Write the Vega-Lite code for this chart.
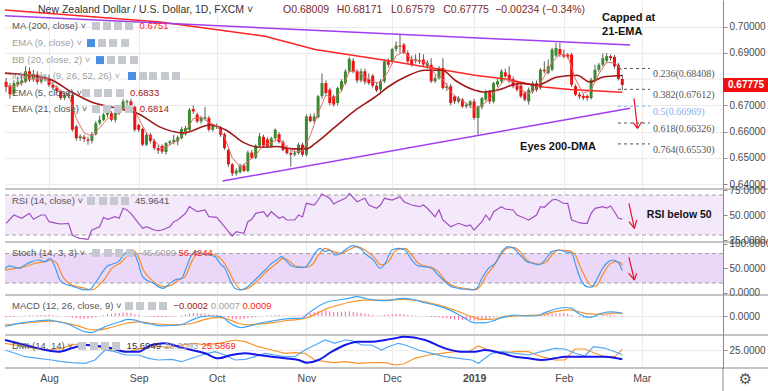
{
"$schema":"https://vega.github.io/schema/vega-lite/v6.json",
"padding":0,
"background":"#ffffff",
"spacing":0,
"bounds":"flush",
"config":{"view":{"stroke":null},"axis":{"labelFont":"Liberation Sans","labelFontSize":10,"labelColor":"#4a4a4a","domainColor":"#8a8a8a","tickColor":"#8a8a8a","gridColor":"#ebebeb","labelOverlap":false},"text":{"font":"Liberation Sans"}},
"datasets":{
"c":[
{"i":-11,"o":0.679,"h":0.6805,"l":0.675,"c":0.677},{"i":-10,"o":0.6775,"h":0.6785,"l":0.6725,"c":0.6742},{"i":-9,"o":0.6745,"h":0.6795,"l":0.6735,"c":0.6785},{"i":-8,"o":0.678,"h":0.681,"l":0.677,"c":0.679},{"i":-7,"o":0.6785,"h":0.6815,"l":0.6775,"c":0.6795},{"i":-6,"o":0.679,"h":0.6849,"l":0.6785,"c":0.683},{"i":-5,"o":0.683,"h":0.6845,"l":0.679,"c":0.68},{"i":-4,"o":0.68,"h":0.6835,"l":0.679,"c":0.682},{"i":-3,"o":0.682,"h":0.683,"l":0.678,"c":0.679},{"i":-2,"o":0.679,"h":0.6815,"l":0.6782,"c":0.6805},{"i":-1,"o":0.6805,"h":0.6815,"l":0.679,"c":0.68},
{"i":0,"o":0.68,"h":0.6815,"l":0.677,"c":0.6778},{"i":1,"o":0.6778,"h":0.679,"l":0.6758,"c":0.6768},{"i":2,"o":0.6768,"h":0.6775,"l":0.6745,"c":0.6755},{"i":3,"o":0.6755,"h":0.676,"l":0.672,"c":0.6728},{"i":4,"o":0.6728,"h":0.6748,"l":0.672,"c":0.674},{"i":5,"o":0.6742,"h":0.675,"l":0.6728,"c":0.6735},{"i":6,"o":0.674,"h":0.6748,"l":0.66,"c":0.6607},{"i":7,"o":0.662,"h":0.6625,"l":0.6565,"c":0.6575},{"i":8,"o":0.6575,"h":0.659,"l":0.6565,"c":0.6582},{"i":9,"o":0.658,"h":0.6588,"l":0.656,"c":0.6572},
{"i":10,"o":0.657,"h":0.658,"l":0.655,"c":0.6565},{"i":11,"o":0.6565,"h":0.6598,"l":0.6555,"c":0.659},{"i":12,"o":0.659,"h":0.664,"l":0.6585,"c":0.6632},{"i":13,"o":0.6632,"h":0.666,"l":0.6625,"c":0.6645},{"i":14,"o":0.6645,"h":0.6675,"l":0.664,"c":0.6665},{"i":15,"o":0.6665,"h":0.6685,"l":0.6655,"c":0.6671},{"i":16,"o":0.667,"h":0.6678,"l":0.6638,"c":0.6645},{"i":17,"o":0.6645,"h":0.668,"l":0.6635,"c":0.667},{"i":18,"o":0.667,"h":0.67,"l":0.6665,"c":0.669},{"i":19,"o":0.669,"h":0.6725,"l":0.6685,"c":0.6715},
{"i":20,"o":0.6712,"h":0.6722,"l":0.67,"c":0.6716},{"i":21,"o":0.6715,"h":0.6725,"l":0.6688,"c":0.6694},{"i":22,"o":0.6694,"h":0.67,"l":0.66,"c":0.6607},{"i":23,"o":0.6625,"h":0.663,"l":0.6598,"c":0.6607},{"i":24,"o":0.661,"h":0.6615,"l":0.6545,"c":0.655},{"i":25,"o":0.655,"h":0.6598,"l":0.6545,"c":0.6588},{"i":26,"o":0.6588,"h":0.6595,"l":0.6555,"c":0.6565},{"i":27,"o":0.6565,"h":0.6572,"l":0.653,"c":0.6537},{"i":28,"o":0.6537,"h":0.6548,"l":0.6515,"c":0.6528},{"i":29,"o":0.6545,"h":0.6552,"l":0.6515,"c":0.6524},
{"i":30,"o":0.6522,"h":0.656,"l":0.6512,"c":0.6556},{"i":31,"o":0.6556,"h":0.6568,"l":0.6548,"c":0.6562},{"i":32,"o":0.656,"h":0.6588,"l":0.6552,"c":0.6569},{"i":33,"o":0.6562,"h":0.6585,"l":0.6548,"c":0.6578},{"i":34,"o":0.6575,"h":0.6618,"l":0.657,"c":0.661},{"i":35,"o":0.659,"h":0.6622,"l":0.6585,"c":0.6613},{"i":36,"o":0.6607,"h":0.669,"l":0.66,"c":0.6683},{"i":37,"o":0.6686,"h":0.67,"l":0.6668,"c":0.6677},{"i":38,"o":0.6665,"h":0.6672,"l":0.6632,"c":0.6639},{"i":39,"o":0.6639,"h":0.666,"l":0.663,"c":0.6652},
{"i":40,"o":0.665,"h":0.6694,"l":0.6642,"c":0.6655},{"i":41,"o":0.6652,"h":0.666,"l":0.66,"c":0.6607},{"i":42,"o":0.6607,"h":0.663,"l":0.66,"c":0.6622},{"i":43,"o":0.6622,"h":0.663,"l":0.661,"c":0.6618},{"i":44,"o":0.6615,"h":0.6622,"l":0.658,"c":0.6588},{"i":45,"o":0.659,"h":0.6595,"l":0.653,"c":0.6537},{"i":46,"o":0.653,"h":0.6535,"l":0.6465,"c":0.6475},{"i":47,"o":0.6475,"h":0.648,"l":0.643,"c":0.644},{"i":48,"o":0.644,"h":0.646,"l":0.6432,"c":0.6452},{"i":49,"o":0.6445,"h":0.6478,"l":0.644,"c":0.647},
{"i":50,"o":0.647,"h":0.6478,"l":0.6445,"c":0.645},{"i":51,"o":0.645,"h":0.6528,"l":0.6445,"c":0.652},{"i":52,"o":0.652,"h":0.653,"l":0.6495,"c":0.65},{"i":53,"o":0.65,"h":0.6552,"l":0.6495,"c":0.6546},{"i":54,"o":0.6546,"h":0.6595,"l":0.654,"c":0.6582},{"i":55,"o":0.658,"h":0.6588,"l":0.654,"c":0.6546},{"i":56,"o":0.657,"h":0.6578,"l":0.6538,"c":0.6545},{"i":57,"o":0.6545,"h":0.658,"l":0.654,"c":0.6575},{"i":58,"o":0.6575,"h":0.6612,"l":0.6568,"c":0.6607},{"i":59,"o":0.659,"h":0.6598,"l":0.6555,"c":0.656},
{"i":60,"o":0.656,"h":0.6568,"l":0.6525,"c":0.653},{"i":61,"o":0.654,"h":0.6548,"l":0.6512,"c":0.6518},{"i":62,"o":0.6518,"h":0.6528,"l":0.6467,"c":0.6512},{"i":63,"o":0.6512,"h":0.6528,"l":0.6505,"c":0.652},{"i":64,"o":0.6518,"h":0.6558,"l":0.6512,"c":0.655},{"i":65,"o":0.655,"h":0.6558,"l":0.6505,"c":0.6512},{"i":66,"o":0.6512,"h":0.6665,"l":0.6505,"c":0.6658},{"i":67,"o":0.6658,"h":0.6668,"l":0.6635,"c":0.664},{"i":68,"o":0.664,"h":0.667,"l":0.663,"c":0.6658},{"i":69,"o":0.6655,"h":0.674,"l":0.665,"c":0.6735},
{"i":70,"o":0.6735,"h":0.6822,"l":0.6725,"c":0.6785},{"i":71,"o":0.6785,"h":0.6795,"l":0.674,"c":0.6747},{"i":72,"o":0.676,"h":0.6768,"l":0.67,"c":0.6709},{"i":73,"o":0.6734,"h":0.674,"l":0.6695,"c":0.6703},{"i":74,"o":0.6709,"h":0.6772,"l":0.67,"c":0.6766},{"i":75,"o":0.676,"h":0.68,"l":0.6752,"c":0.6792},{"i":76,"o":0.6785,"h":0.6838,"l":0.678,"c":0.683},{"i":77,"o":0.683,"h":0.6885,"l":0.6825,"c":0.6877},{"i":78,"o":0.687,"h":0.688,"l":0.6822,"c":0.683},{"i":79,"o":0.683,"h":0.6838,"l":0.6785,"c":0.6795},
{"i":80,"o":0.6795,"h":0.684,"l":0.6788,"c":0.683},{"i":81,"o":0.683,"h":0.684,"l":0.678,"c":0.679},{"i":82,"o":0.68,"h":0.6822,"l":0.6778,"c":0.6785},{"i":83,"o":0.6813,"h":0.682,"l":0.6768,"c":0.6775},{"i":84,"o":0.6775,"h":0.6785,"l":0.675,"c":0.6757},{"i":85,"o":0.676,"h":0.68,"l":0.6752,"c":0.6792},{"i":86,"o":0.6792,"h":0.6875,"l":0.6785,"c":0.6868},{"i":87,"o":0.6868,"h":0.688,"l":0.6845,"c":0.6855},{"i":88,"o":0.6865,"h":0.692,"l":0.6858,"c":0.6915},{"i":89,"o":0.6915,"h":0.6945,"l":0.6905,"c":0.6928},
{"i":90,"o":0.6928,"h":0.697,"l":0.69,"c":0.6924},{"i":91,"o":0.6932,"h":0.6938,"l":0.6895,"c":0.69},{"i":92,"o":0.69,"h":0.691,"l":0.686,"c":0.6868},{"i":93,"o":0.6875,"h":0.689,"l":0.6848,"c":0.6855},{"i":94,"o":0.687,"h":0.6895,"l":0.686,"c":0.6877},{"i":95,"o":0.6872,"h":0.69,"l":0.6858,"c":0.6866},{"i":96,"o":0.6875,"h":0.6895,"l":0.6848,"c":0.6856},{"i":97,"o":0.685,"h":0.6872,"l":0.684,"c":0.6862},{"i":98,"o":0.6855,"h":0.688,"l":0.6785,"c":0.6792},{"i":99,"o":0.6792,"h":0.6815,"l":0.6785,"c":0.6804},
{"i":100,"o":0.6804,"h":0.685,"l":0.6798,"c":0.6843},{"i":101,"o":0.6843,"h":0.688,"l":0.676,"c":0.6766},{"i":102,"o":0.6766,"h":0.6785,"l":0.6755,"c":0.6773},{"i":103,"o":0.6773,"h":0.6782,"l":0.67,"c":0.6709},{"i":104,"o":0.6734,"h":0.674,"l":0.6705,"c":0.6715},{"i":105,"o":0.6715,"h":0.6735,"l":0.6708,"c":0.6728},{"i":106,"o":0.6722,"h":0.6728,"l":0.669,"c":0.6696},{"i":107,"o":0.6696,"h":0.671,"l":0.6688,"c":0.6703},{"i":108,"o":0.67,"h":0.672,"l":0.669,"c":0.6715},{"i":109,"o":0.6715,"h":0.6725,"l":0.6645,"c":0.6652},
{"i":110,"o":0.6652,"h":0.67,"l":0.6588,"c":0.6696},{"i":111,"o":0.6694,"h":0.6732,"l":0.6685,"c":0.6728},{"i":112,"o":0.6722,"h":0.676,"l":0.6715,"c":0.6753},{"i":113,"o":0.6753,"h":0.676,"l":0.6705,"c":0.6715},{"i":114,"o":0.6715,"h":0.679,"l":0.6708,"c":0.6785},{"i":115,"o":0.6779,"h":0.68,"l":0.677,"c":0.6792},{"i":116,"o":0.6792,"h":0.6838,"l":0.6785,"c":0.683},{"i":117,"o":0.6826,"h":0.684,"l":0.6805,"c":0.6811},{"i":118,"o":0.6817,"h":0.6849,"l":0.6785,"c":0.6792},{"i":119,"o":0.68,"h":0.681,"l":0.6765,"c":0.6773},
{"i":120,"o":0.6779,"h":0.679,"l":0.6752,"c":0.676},{"i":121,"o":0.6775,"h":0.6782,"l":0.6728,"c":0.6734},{"i":122,"o":0.6747,"h":0.6755,"l":0.6715,"c":0.6722},{"i":123,"o":0.6715,"h":0.6768,"l":0.6703,"c":0.676},{"i":124,"o":0.6753,"h":0.6792,"l":0.6745,"c":0.6785},{"i":125,"o":0.6785,"h":0.6795,"l":0.6752,"c":0.676},{"i":126,"o":0.6766,"h":0.6842,"l":0.676,"c":0.6836},{"i":127,"o":0.6836,"h":0.6868,"l":0.6822,"c":0.683},{"i":128,"o":0.6824,"h":0.6875,"l":0.6818,"c":0.6849},{"i":129,"o":0.6836,"h":0.692,"l":0.683,"c":0.6913},
{"i":130,"o":0.689,"h":0.6938,"l":0.6885,"c":0.6919},{"i":131,"o":0.6915,"h":0.6938,"l":0.6885,"c":0.6894},{"i":132,"o":0.6894,"h":0.6913,"l":0.688,"c":0.6886},{"i":133,"o":0.6894,"h":0.69,"l":0.6878,"c":0.6885},{"i":134,"o":0.6894,"h":0.69,"l":0.677,"c":0.6779},{"i":135,"o":0.6773,"h":0.678,"l":0.6735,"c":0.6741},{"i":136,"o":0.6741,"h":0.675,"l":0.6725,"c":0.6734},{"i":137,"o":0.6736,"h":0.6745,"l":0.672,"c":0.6728},{"i":138,"o":0.6736,"h":0.6742,"l":0.6718,"c":0.6728},{"i":139,"o":0.6728,"h":0.6805,"l":0.6722,"c":0.6798},
{"i":140,"o":0.6798,"h":0.6855,"l":0.679,"c":0.6836},{"i":141,"o":0.6836,"h":0.6862,"l":0.6828,"c":0.6855},{"i":142,"o":0.6855,"h":0.6898,"l":0.6848,"c":0.688},{"i":143,"o":0.687,"h":0.69,"l":0.686,"c":0.6888},{"i":144,"o":0.6888,"h":0.6895,"l":0.687,"c":0.688},{"i":145,"o":0.6885,"h":0.6892,"l":0.684,"c":0.6849},{"i":146,"o":0.6855,"h":0.6862,"l":0.6795,"c":0.6801},{"i":147,"o":0.6801,"h":0.6817,"l":0.6758,"c":0.6778}
],
"ma":[{"i":-11.3,"v":0.7064},{"i":28.5,"v":0.7018},{"i":55.4,"v":0.6964},{"i":68.2,"v":0.6913},{"i":88.7,"v":0.6866},{"i":109.2,"v":0.6815},{"i":116.5,"v":0.6802},{"i":126.8,"v":0.677},{"i":133.6,"v":0.6761},{"i":147,"v":0.675}],
"e21":[{"i":-11.3,"v":0.6823},{"i":-0.2,"v":0.6802},{"i":5.8,"v":0.6751},{"i":10.9,"v":0.6713},{"i":16.9,"v":0.6691},{"i":22.9,"v":0.6668},{"i":28.5,"v":0.6617},{"i":34.4,"v":0.6595},{"i":41.3,"v":0.6625},{"i":45.6,"v":0.6604},{"i":49.8,"v":0.6559},{"i":54.1,"v":0.654},{"i":58.4,"v":0.6543},{"i":62.6,"v":0.6534},{"i":66.1,"v":0.6534},{"i":68.2,"v":0.6554},{"i":73.3,"v":0.6617},{"i":78.5,"v":0.6681},{"i":83.6,"v":0.6732},{"i":86.9,"v":0.677},{"i":91.3,"v":0.6808},{"i":96.4,"v":0.6834},{"i":100.8,"v":0.6834},{"i":104.1,"v":0.6796},{"i":109.2,"v":0.6758},{"i":111.3,"v":0.6751},{"i":114.9,"v":0.6758},{"i":120.8,"v":0.6784},{"i":125.1,"v":0.6777},{"i":130.3,"v":0.6808},{"i":135.4,"v":0.6815},{"i":138.7,"v":0.6789},{"i":142.1,"v":0.6808},{"i":147,"v":0.6814}],
"e5":[{"i":-11,"v":0.6775},{"i":-9,"v":0.6772},{"i":-7,"v":0.6785},{"i":-5,"v":0.68},{"i":-3,"v":0.68},{"i":-1,"v":0.6801},{"i":1,"v":0.678},{"i":3,"v":0.6755},{"i":5,"v":0.6742},{"i":7,"v":0.665},{"i":9,"v":0.6595},{"i":11,"v":0.6583},{"i":13,"v":0.6615},{"i":15,"v":0.665},{"i":17,"v":0.6658},{"i":19,"v":0.6688},{"i":21,"v":0.67},{"i":23,"v":0.665},{"i":25,"v":0.6595},{"i":27,"v":0.6565},{"i":29,"v":0.6535},{"i":31,"v":0.655},{"i":33,"v":0.6567},{"i":35,"v":0.6598},{"i":37,"v":0.665},{"i":39,"v":0.6655},{"i":41,"v":0.6635},{"i":43,"v":0.6622},{"i":45,"v":0.658},{"i":47,"v":0.65},{"i":49,"v":0.6465},{"i":51,"v":0.6485},{"i":53,"v":0.651},{"i":55,"v":0.6548},{"i":57,"v":0.6558},{"i":59,"v":0.6572},{"i":61,"v":0.654},{"i":63,"v":0.6522},{"i":65,"v":0.6525},{"i":67,"v":0.6585},{"i":69,"v":0.667},{"i":71,"v":0.674},{"i":73,"v":0.6725},{"i":75,"v":0.6755},{"i":77,"v":0.683},{"i":79,"v":0.683},{"i":81,"v":0.6808},{"i":83,"v":0.679},{"i":85,"v":0.6785},{"i":87,"v":0.683},{"i":89,"v":0.689},{"i":91,"v":0.6905},{"i":93,"v":0.6875},{"i":95,"v":0.6868},{"i":97,"v":0.6862},{"i":99,"v":0.682},{"i":101,"v":0.68},{"i":103,"v":0.675},{"i":105,"v":0.6725},{"i":107,"v":0.6708},{"i":109,"v":0.6685},{"i":111,"v":0.67},{"i":113,"v":0.6725},{"i":115,"v":0.6765},{"i":117,"v":0.68},{"i":119,"v":0.679},{"i":121,"v":0.676},{"i":123,"v":0.6745},{"i":125,"v":0.6765},{"i":127,"v":0.681},{"i":129,"v":0.6865},{"i":131,"v":0.6895},{"i":133,"v":0.6888},{"i":135,"v":0.68},{"i":137,"v":0.6745},{"i":139,"v":0.676},{"i":141,"v":0.682},{"i":143,"v":0.6865},{"i":145,"v":0.6862},{"i":147,"v":0.6833}],
"tl":[{"i":-11.3,"p":0.70416,"i2":149,"p2":0.69302},{"i":44.5,"p":0.64115,"i2":149,"p2":0.66888}],
"fib":[{"i":145.9,"i2":154.1,"p":0.68408,"t":"0.236(0.68408)","k":"fib"},{"i":145.9,"i2":154.1,"p":0.67612,"t":"0.382(0.67612)","k":"fib"},{"i":145.9,"i2":154.1,"p":0.66969,"t":"0.5(0.66969)","k":"fibb"},{"i":145.9,"i2":154.1,"p":0.66326,"t":"0.618(0.66326)","k":"fib"},{"i":145.9,"i2":154.1,"p":0.6553,"t":"0.764(0.65530)","k":"fib"}],
"arm":[{"i":150,"p":0.67269,"i2":150.9,"p2":0.66125},{"i":149.8,"p":0.66339,"i2":150.9,"p2":0.66125},{"i":152,"p":0.66377,"i2":150.9,"p2":0.66125}],
"ann":[{"i":141.8,"p":0.70332,"t":"Capped at"},{"i":141.8,"p":0.69798,"t":"21-EMA"},{"i":120.8,"p":0.65423,"t":"Eyes 200-DMA"}],
"bxm":[{"i":12.05,"p":0.70027,"k":"box"},{"i":14.87,"p":0.70027,"k":"box"},{"i":17.69,"p":0.70027,"k":"box"},{"i":20.51,"p":0.70027,"k":"box"},
{"i":10.77,"p":0.69378,"k":"boxb"},{"i":13.59,"p":0.69378,"k":"box"},{"i":16.41,"p":0.69378,"k":"box"},{"i":19.49,"p":0.69378,"k":"box"},
{"i":13.08,"p":0.68729,"k":"boxb"},{"i":15.9,"p":0.68729,"k":"box"},{"i":18.72,"p":0.68729,"k":"box"},{"i":21.79,"p":0.68729,"k":"box"},
{"i":21.28,"p":0.6812,"k":"boxb"},{"i":24.1,"p":0.6812,"k":"box"},{"i":26.67,"p":0.6812,"k":"box"},{"i":29.74,"p":0.6812,"k":"box"},{"i":32.56,"p":0.6812,"k":"box"},
{"i":9.49,"p":0.67471,"k":"box"},{"i":12.56,"p":0.67471,"k":"box"},{"i":15.13,"p":0.67471,"k":"box"},{"i":18.21,"p":0.67471,"k":"box"},
{"i":12.05,"p":0.66861,"k":"box"},{"i":14.87,"p":0.66861,"k":"box"},{"i":17.69,"p":0.66861,"k":"box"},{"i":20.51,"p":0.66861,"k":"box"}],
"lgm":[{"i":-9.49,"p":0.70027,"t":"MA (200, close) ˅","k":"lab"},{"i":-9.49,"p":0.69378,"t":"EMA (9, close) ˅","k":"lab2"},{"i":-9.49,"p":0.68729,"t":"BB (20, close, 2) ˅","k":"lab2"},{"i":-9.49,"p":0.6812,"t":"Ichimoku (9, 26, 52, 26) ˅","k":"lab2"},{"i":-9.49,"p":0.67471,"t":"EMA (5, close) ˅","k":"lab"},{"i":-9.49,"p":0.66861,"t":"EMA (21, close) ˅","k":"lab"},{"i":23.2,"p":0.70027,"t":"0.6751","k":"red"},{"i":20.8,"p":0.67471,"t":"0.6833","k":"dred"},{"i":23.3,"p":0.66861,"t":"0.6814","k":"dred"}],
"ttl":[{"i":-2.82,"p":0.70637,"t":"New Zealand Dollar / U.S. Dollar, 1D, FXCM ˅","k":"ttl"},{"i":60.0,"p":0.70637,"t":"O0.68009","k":"ohlc"},{"i":73.8,"p":0.70637,"t":"H0.68171","k":"ohlc"},{"i":87.7,"p":0.70637,"t":"L0.67579","k":"ohlc"},{"i":101.1,"p":0.70637,"t":"C0.67775","k":"ohlc"},{"i":114.4,"p":0.70637,"t":"−0.00234 (−0.34%)","k":"ohlc"}],
"px":[{"i":172.82,"i2":185.6,"p":0.68043,"p2":0.6751,"pt":0.67775,"t":"0.67775"}],
"rsi":[{"i":-11,"v":41.7},{"i":-9,"v":50},{"i":-7,"v":46.7},{"i":-5,"v":51.7},{"i":-4,"v":45.7},{"i":-2,"v":50},{"i":-1,"v":50},{"i":0,"v":43.3},{"i":2,"v":41.7},{"i":3,"v":41},{"i":5,"v":41.7},{"i":6,"v":30},{"i":7,"v":27.7},{"i":8,"v":26.7},{"i":10,"v":25.7},{"i":11,"v":35},{"i":13,"v":38.3},{"i":14,"v":47.7},{"i":15,"v":45.7},{"i":17,"v":48.3},{"i":18,"v":46.7},{"i":19,"v":56.7},{"i":20,"v":55},{"i":21,"v":51.7},{"i":23,"v":41.7},{"i":24,"v":36.7},{"i":25,"v":38.3},{"i":27,"v":35},{"i":28,"v":34.3},{"i":29,"v":35},{"i":31,"v":38.3},{"i":32,"v":43.3},{"i":33,"v":45},{"i":34,"v":48.3},{"i":35,"v":51.7},{"i":36,"v":58.3},{"i":38,"v":53.3},{"i":40,"v":55},{"i":41,"v":48.3},{"i":43,"v":47.7},{"i":45,"v":38.3},{"i":46,"v":33.3},{"i":47,"v":29},{"i":48,"v":33.3},{"i":50,"v":31.7},{"i":51,"v":43.3},{"i":52,"v":45.7},{"i":53,"v":51.7},{"i":55,"v":53.3},{"i":56,"v":48.3},{"i":57,"v":53.3},{"i":59,"v":46.7},{"i":60,"v":48.3},{"i":61,"v":45},{"i":63,"v":45},{"i":64,"v":50},{"i":65,"v":48},{"i":66,"v":61.7},{"i":68,"v":60},{"i":69,"v":65},{"i":70,"v":71},{"i":72,"v":66.7},{"i":73,"v":61},{"i":74,"v":63.3},{"i":76,"v":66.7},{"i":77,"v":71.7},{"i":79,"v":63.3},{"i":81,"v":66.7},{"i":82,"v":60},{"i":84,"v":56.7},{"i":85,"v":60},{"i":86,"v":66.7},{"i":88,"v":65},{"i":90,"v":68.3},{"i":91,"v":63.3},{"i":93,"v":60},{"i":95,"v":58.3},{"i":96,"v":60},{"i":97,"v":56.7},{"i":99,"v":48.3},{"i":100,"v":55},{"i":101,"v":45},{"i":103,"v":38.3},{"i":105,"v":41.7},{"i":107,"v":39},{"i":108,"v":40},{"i":109,"v":35},{"i":111,"v":43.3},{"i":112,"v":50},{"i":113,"v":45},{"i":114,"v":53.3},{"i":116,"v":58.3},{"i":117,"v":56},{"i":119,"v":55},{"i":120,"v":50},{"i":122,"v":46.7},{"i":123,"v":45},{"i":125,"v":50},{"i":126,"v":58.3},{"i":127,"v":57.7},{"i":129,"v":65},{"i":130,"v":65.7},{"i":132,"v":61.5},{"i":133,"v":61.7},{"i":134,"v":45},{"i":136,"v":42.3},{"i":137,"v":41.7},{"i":138,"v":41.7},{"i":139,"v":51.7},{"i":140,"v":56.7},{"i":142,"v":58.3},{"i":143,"v":57},{"i":144,"v":59},{"i":145,"v":53.3},{"i":146,"v":46.7},{"i":147,"v":45.96}],
"sk":[{"i":-11.3,"v":50},{"i":-10,"v":54.8},{"i":-8.7,"v":52},{"i":-7.4,"v":50},{"i":-6.2,"v":56.8},{"i":-4.4,"v":63.6},{"i":-2.7,"v":67},{"i":-1,"v":63.6},{"i":0.3,"v":70.4},{"i":1.5,"v":53.4},{"i":2.8,"v":26.2},{"i":4.1,"v":18},{"i":5.8,"v":13.9},{"i":7.5,"v":9.2},{"i":9.2,"v":5.8},{"i":10.5,"v":7},{"i":11.8,"v":19.4},{"i":13.5,"v":39.8},{"i":14.8,"v":53.4},{"i":16.1,"v":58.2},{"i":17.8,"v":63.6},{"i":19.5,"v":80.6},{"i":20.8,"v":87.4},{"i":21.6,"v":84},{"i":22.9,"v":60.2},{"i":23.8,"v":36.4},{"i":25,"v":26.2},{"i":26.8,"v":19.4},{"i":28,"v":12.6},{"i":29.3,"v":9.2},{"i":30.6,"v":16},{"i":32.3,"v":26.2},{"i":34,"v":29.6},{"i":35.3,"v":53.4},{"i":36.6,"v":77.2},{"i":37.9,"v":84},{"i":39.1,"v":79.2},{"i":40.9,"v":77.2},{"i":42.6,"v":73.8},{"i":43.8,"v":60.2},{"i":45.1,"v":50},{"i":46.4,"v":26.2},{"i":47.7,"v":9.2},{"i":49,"v":5.8},{"i":50.3,"v":9.2},{"i":51.5,"v":16},{"i":52.8,"v":26.2},{"i":54.1,"v":36.4},{"i":55.4,"v":46.6},{"i":57.1,"v":60.2},{"i":58.4,"v":67},{"i":59.7,"v":73.8},{"i":61,"v":63.6},{"i":62.2,"v":54.8},{"i":64,"v":52},{"i":65.6,"v":52},{"i":66.9,"v":63.6},{"i":68.2,"v":80.6},{"i":69.5,"v":90.8},{"i":70.8,"v":84},{"i":72,"v":87.4},{"i":73.3,"v":77.2},{"i":74.6,"v":79.2},{"i":75.9,"v":87.4},{"i":78,"v":96.2},{"i":79.7,"v":90.8},{"i":81.5,"v":77.2},{"i":83.2,"v":67},{"i":84.9,"v":50},{"i":86.2,"v":60.2},{"i":87.9,"v":87.4},{"i":89.6,"v":90.8},{"i":91.3,"v":87.4},{"i":93,"v":67},{"i":94.7,"v":54.8},{"i":96.4,"v":53.4},{"i":98.1,"v":50},{"i":99.8,"v":36.4},{"i":101.5,"v":22.8},{"i":103.2,"v":12.6},{"i":105,"v":9.2},{"i":106.7,"v":7.2},{"i":108.4,"v":5.8},{"i":109.7,"v":9.2},{"i":111,"v":29.6},{"i":112.7,"v":50},{"i":114.4,"v":60.2},{"i":116.1,"v":84},{"i":117.8,"v":94.2},{"i":119.1,"v":90.8},{"i":120.8,"v":77.2},{"i":122.5,"v":63.6},{"i":124.2,"v":60.2},{"i":125.5,"v":56.8},{"i":127.2,"v":67},{"i":128.9,"v":84},{"i":130.6,"v":87.4},{"i":132.3,"v":84},{"i":134,"v":80.6},{"i":135.3,"v":50},{"i":136.6,"v":22.8},{"i":137.9,"v":12.6},{"i":139.1,"v":11.3},{"i":140.4,"v":26.2},{"i":141.7,"v":46.6},{"i":143.4,"v":63.6},{"i":144.7,"v":67},{"i":146,"v":61.5},{"i":147,"v":45.6}],
"sd":[{"i":-11.3,"v":46.6},{"i":-8.7,"v":50},{"i":-6.2,"v":53.4},{"i":-3.6,"v":60.2},{"i":-1,"v":63.6},{"i":0.7,"v":67},{"i":2,"v":60.2},{"i":3.3,"v":36.4},{"i":5,"v":19.4},{"i":7.1,"v":12.6},{"i":9.2,"v":9.2},{"i":10.9,"v":5.8},{"i":12.6,"v":13.9},{"i":14.4,"v":29.6},{"i":16.1,"v":50},{"i":18.2,"v":60.2},{"i":19.9,"v":73.8},{"i":21.6,"v":86},{"i":22.9,"v":73.8},{"i":24.2,"v":46.6},{"i":25.9,"v":29.6},{"i":27.6,"v":18},{"i":29.7,"v":12.6},{"i":31.5,"v":16},{"i":33.2,"v":26.2},{"i":34.9,"v":33},{"i":36.6,"v":63.6},{"i":38.3,"v":80.6},{"i":40,"v":80.6},{"i":42.6,"v":77.2},{"i":44.3,"v":67},{"i":46,"v":46.6},{"i":47.7,"v":19.4},{"i":49.4,"v":5.8},{"i":51.1,"v":9.2},{"i":52.8,"v":19.4},{"i":54.5,"v":33},{"i":56.2,"v":46.6},{"i":58.4,"v":60.2},{"i":60.1,"v":70.4},{"i":61.8,"v":63.6},{"i":63.5,"v":53.4},{"i":65.6,"v":52},{"i":67.4,"v":56.8},{"i":69.1,"v":77.2},{"i":70.8,"v":90.8},{"i":72.9,"v":84},{"i":75,"v":80.6},{"i":76.8,"v":87.4},{"i":78.9,"v":94.2},{"i":81,"v":87.4},{"i":83.2,"v":73.8},{"i":85.3,"v":56.8},{"i":87,"v":63.6},{"i":89.1,"v":87.4},{"i":91.3,"v":90.8},{"i":93,"v":77.2},{"i":94.7,"v":60.2},{"i":96.4,"v":54.8},{"i":98.1,"v":52},{"i":99.8,"v":43.2},{"i":101.5,"v":26.2},{"i":103.2,"v":16},{"i":105,"v":11.3},{"i":107.1,"v":8.5},{"i":109.2,"v":5.8},{"i":110.5,"v":12.6},{"i":112.2,"v":36.4},{"i":113.9,"v":53.4},{"i":115.6,"v":73.8},{"i":117.4,"v":90.8},{"i":119.1,"v":92.8},{"i":120.8,"v":84},{"i":122.5,"v":67},{"i":124.2,"v":60.2},{"i":125.9,"v":58.8},{"i":127.6,"v":63.6},{"i":129.3,"v":80.6},{"i":131,"v":87.4},{"i":133.2,"v":86},{"i":134.9,"v":77.2},{"i":136.2,"v":53.4},{"i":137.9,"v":26.2},{"i":139.1,"v":14},{"i":140.4,"v":14},{"i":141.7,"v":33},{"i":143.4,"v":54.8},{"i":145.1,"v":63.6},{"i":146.4,"v":61.5},{"i":147,"v":56.4}],
"mm":[{"i":-11.3,"v":-0.0031},{"i":-7,"v":-0.002},{"i":-2.7,"v":-0.0014},{"i":-0.2,"v":-0.0012},{"i":2.4,"v":-0.0017},{"i":5,"v":-0.0024},{"i":7.1,"v":-0.0036},{"i":9.2,"v":-0.0046},{"i":10.9,"v":-0.0049},{"i":12.6,"v":-0.0041},{"i":15.2,"v":-0.0028},{"i":18.2,"v":-0.0017},{"i":20.3,"v":-0.001},{"i":22.1,"v":-0.0012},{"i":24.2,"v":-0.002},{"i":26.3,"v":-0.0024},{"i":28.9,"v":-0.0029},{"i":31.5,"v":-0.0028},{"i":34,"v":-0.0025},{"i":36.6,"v":-0.0012},{"i":39.1,"v":-0.0002},{"i":41.7,"v":0},{"i":44.3,"v":-0.0002},{"i":46,"v":-0.0017},{"i":47.7,"v":-0.0029},{"i":49.4,"v":-0.0034},{"i":52,"v":-0.0028},{"i":54.5,"v":-0.002},{"i":57.1,"v":-0.0015},{"i":59.7,"v":-0.001},{"i":62.2,"v":-0.0007},{"i":64.8,"v":-0.0007},{"i":66.5,"v":0.0008},{"i":69.1,"v":0.0029},{"i":71.6,"v":0.0042},{"i":74.2,"v":0.0047},{"i":76.8,"v":0.0052},{"i":78.9,"v":0.0057},{"i":81,"v":0.0052},{"i":83.6,"v":0.0047},{"i":86.2,"v":0.0045},{"i":88.7,"v":0.0049},{"i":90.9,"v":0.0052},{"i":93.8,"v":0.0047},{"i":96.4,"v":0.0039},{"i":99,"v":0.0032},{"i":101.5,"v":0.0023},{"i":104.1,"v":0.001},{"i":106.7,"v":-0.0007},{"i":109.2,"v":-0.002},{"i":111.8,"v":-0.002},{"i":114.4,"v":-0.0012},{"i":116.9,"v":-0.0002},{"i":119.5,"v":0.0003},{"i":122.1,"v":0},{"i":124.6,"v":0},{"i":127.2,"v":0.001},{"i":129.7,"v":0.002},{"i":132.3,"v":0.0025},{"i":134,"v":0.0023},{"i":135.7,"v":0.0008},{"i":138.3,"v":-0.0004},{"i":139.6,"v":-0.0002},{"i":141.7,"v":0.0008},{"i":144.3,"v":0.0012},{"i":146,"v":0.001},{"i":147,"v":0.0007}],
"ms":[{"i":-11.3,"v":-0.0026},{"i":-7,"v":-0.0022},{"i":-2.7,"v":-0.0017},{"i":0.7,"v":-0.0015},{"i":4.1,"v":-0.002},{"i":7.5,"v":-0.0029},{"i":10.1,"v":-0.0039},{"i":12.6,"v":-0.0041},{"i":16.1,"v":-0.0033},{"i":19.5,"v":-0.0022},{"i":22.9,"v":-0.0017},{"i":26.3,"v":-0.0022},{"i":29.7,"v":-0.0025},{"i":33.2,"v":-0.0026},{"i":36.6,"v":-0.0022},{"i":40,"v":-0.001},{"i":43.4,"v":-0.0004},{"i":46,"v":-0.001},{"i":48.6,"v":-0.0022},{"i":51.1,"v":-0.0026},{"i":53.7,"v":-0.0024},{"i":57.1,"v":-0.002},{"i":60.5,"v":-0.0014},{"i":63.9,"v":-0.001},{"i":66.5,"v":-0.0004},{"i":69.1,"v":0.001},{"i":71.6,"v":0.0023},{"i":74.2,"v":0.0032},{"i":77.6,"v":0.0042},{"i":81,"v":0.0047},{"i":84.4,"v":0.0047},{"i":87.9,"v":0.0047},{"i":90.9,"v":0.0049},{"i":94.7,"v":0.0045},{"i":98.1,"v":0.0037},{"i":101.5,"v":0.0027},{"i":105,"v":0.0013},{"i":108.4,"v":-0.0002},{"i":110.9,"v":-0.001},{"i":113.5,"v":-0.001},{"i":116.1,"v":-0.0004},{"i":119.5,"v":0},{"i":122.9,"v":0.0002},{"i":126.3,"v":0.0003},{"i":129.7,"v":0.0013},{"i":133.2,"v":0.0018},{"i":135.7,"v":0.0013},{"i":138.3,"v":0.0006},{"i":141.7,"v":0.0005},{"i":144.3,"v":0.0008},{"i":147,"v":0.0009}],
"mh":[{"i":-11,"v":-0.0004},{"i":-10,"v":-0.0003},{"i":-9,"v":-0.0002},{"i":-8,"v":-0.0001},{"i":-7,"v":0},{"i":-6,"v":0.0001},{"i":-5,"v":0.0002},{"i":-4,"v":0.0002},{"i":-3,"v":0.0002},{"i":-2,"v":0.0003},{"i":-1,"v":0.0003},{"i":0,"v":0.0003},{"i":1,"v":0.0002},{"i":2,"v":0.0001},{"i":3,"v":0},{"i":4,"v":-0.0001},{"i":5,"v":-0.0002},{"i":6,"v":-0.0005},{"i":7,"v":-0.0007},{"i":8,"v":-0.0008},{"i":9,"v":-0.0008},{"i":10,"v":-0.0008},{"i":11,"v":-0.0006},{"i":12,"v":-0.0003},{"i":13,"v":-0.0001},{"i":14,"v":0.0002},{"i":15,"v":0.0005},{"i":16,"v":0.0006},{"i":17,"v":0.0008},{"i":18,"v":0.0009},{"i":19,"v":0.001},{"i":20,"v":0.001},{"i":21,"v":0.0009},{"i":22,"v":0.0005},{"i":23,"v":0.0003},{"i":24,"v":0},{"i":25,"v":-0.0001},{"i":26,"v":-0.0002},{"i":27,"v":-0.0003},{"i":28,"v":-0.0004},{"i":29,"v":-0.0004},{"i":30,"v":-0.0003},{"i":31,"v":-0.0002},{"i":32,"v":-0.0001},{"i":33,"v":0},{"i":34,"v":0.0002},{"i":35,"v":0.0004},{"i":36,"v":0.0007},{"i":37,"v":0.0008},{"i":38,"v":0.0008},{"i":39,"v":0.0008},{"i":40,"v":0.0007},{"i":41,"v":0.0005},{"i":42,"v":0.0004},{"i":43,"v":0.0003},{"i":44,"v":0.0001},{"i":45,"v":-0.0002},{"i":46,"v":-0.0006},{"i":47,"v":-0.0009},{"i":48,"v":-0.001},{"i":49,"v":-0.001},{"i":50,"v":-0.0009},{"i":51,"v":-0.0006},{"i":52,"v":-0.0005},{"i":53,"v":-0.0003},{"i":54,"v":-0.0001},{"i":55,"v":0},{"i":56,"v":0.0001},{"i":57,"v":0.0002},{"i":58,"v":0.0003},{"i":59,"v":0.0003},{"i":60,"v":0.0002},{"i":61,"v":0.0001},{"i":62,"v":0.0001},{"i":63,"v":0.0001},{"i":64,"v":0.0002},{"i":65,"v":0.0002},{"i":66,"v":0.0006},{"i":67,"v":0.0009},{"i":68,"v":0.0011},{"i":69,"v":0.0014},{"i":70,"v":0.0016},{"i":71,"v":0.0016},{"i":72,"v":0.0014},{"i":73,"v":0.0012},{"i":74,"v":0.0012},{"i":75,"v":0.0012},{"i":76,"v":0.0013},{"i":77,"v":0.0014},{"i":78,"v":0.0012},{"i":79,"v":0.001},{"i":80,"v":0.0009},{"i":81,"v":0.0007},{"i":82,"v":0.0005},{"i":83,"v":0.0003},{"i":84,"v":0.0001},{"i":85,"v":0.0001},{"i":86,"v":0.0003},{"i":87,"v":0.0004},{"i":88,"v":0.0005},{"i":89,"v":0.0006},{"i":90,"v":0.0006},{"i":91,"v":0.0005},{"i":92,"v":0.0003},{"i":93,"v":0.0002},{"i":94,"v":0.0001},{"i":95,"v":0},{"i":96,"v":-0.0001},{"i":97,"v":-0.0001},{"i":98,"v":-0.0003},{"i":99,"v":-0.0004},{"i":100,"v":-0.0004},{"i":101,"v":-0.0006},{"i":102,"v":-0.0007},{"i":103,"v":-0.0009},{"i":104,"v":-0.001},{"i":105,"v":-0.0011},{"i":106,"v":-0.0012},{"i":107,"v":-0.0012},{"i":108,"v":-0.0012},{"i":109,"v":-0.0014},{"i":110,"v":-0.0013},{"i":111,"v":-0.0011},{"i":112,"v":-0.0009},{"i":113,"v":-0.0007},{"i":114,"v":-0.0004},{"i":115,"v":-0.0002},{"i":116,"v":0.0001},{"i":117,"v":0.0002},{"i":118,"v":0.0003},{"i":119,"v":0.0003},{"i":120,"v":0.0002},{"i":121,"v":0.0001},{"i":122,"v":0},{"i":123,"v":0},{"i":124,"v":0.0001},{"i":125,"v":0.0001},{"i":126,"v":0.0003},{"i":127,"v":0.0004},{"i":128,"v":0.0005},{"i":129,"v":0.0007},{"i":130,"v":0.0008},{"i":131,"v":0.0008},{"i":132,"v":0.0008},{"i":133,"v":0.0007},{"i":134,"v":0.0003},{"i":135,"v":0},{"i":136,"v":-0.0003},{"i":137,"v":-0.0005},{"i":138,"v":-0.0006},{"i":139,"v":-0.0004},{"i":140,"v":-0.0002},{"i":141,"v":0},{"i":142,"v":0.0002},{"i":143,"v":0.0003},{"i":144,"v":0.0003},{"i":145,"v":0.0002},{"i":146,"v":0},{"i":147,"v":-0.0002}],
"adx":[{"i":-11.3,"v":35},{"i":-7.9,"v":31.7},{"i":-4.4,"v":28.3},{"i":-1,"v":25},{"i":2.4,"v":23.3},{"i":5.8,"v":26.7},{"i":9.2,"v":30},{"i":12.6,"v":29},{"i":16.1,"v":26.7},{"i":19.5,"v":23.3},{"i":22.9,"v":23.3},{"i":26.3,"v":30},{"i":29.7,"v":31.7},{"i":33.2,"v":28.3},{"i":36.6,"v":25},{"i":40,"v":21.7},{"i":43.4,"v":16.7},{"i":46.8,"v":20},{"i":50.3,"v":21.7},{"i":53.7,"v":20},{"i":57.1,"v":18.3},{"i":60.5,"v":16.7},{"i":64,"v":15},{"i":66.1,"v":12.3},{"i":69.1,"v":15},{"i":72.5,"v":23.3},{"i":75.9,"v":30},{"i":79.3,"v":33.3},{"i":82.7,"v":33.3},{"i":86.2,"v":35},{"i":88.7,"v":36.7},{"i":90.9,"v":38.3},{"i":96.4,"v":35},{"i":101.5,"v":26.7},{"i":105.8,"v":23.3},{"i":109.2,"v":23.3},{"i":111.8,"v":25},{"i":116.1,"v":21.7},{"i":119.5,"v":18.3},{"i":122.9,"v":16.7},{"i":126.3,"v":15},{"i":129.7,"v":16.7},{"i":132.3,"v":18.3},{"i":135.7,"v":18.3},{"i":139.1,"v":18.3},{"i":142.6,"v":18.3},{"i":147,"v":15.7}],
"pdi":[{"i":-11.3,"v":25},{"i":-8.7,"v":21.7},{"i":-6.2,"v":18.3},{"i":-2.7,"v":16.7},{"i":0.7,"v":15},{"i":3.3,"v":13.3},{"i":5.8,"v":12.3},{"i":9.2,"v":11.7},{"i":11.8,"v":15},{"i":14.4,"v":25},{"i":16.9,"v":23.3},{"i":19.5,"v":20},{"i":22.9,"v":20},{"i":25.5,"v":16.7},{"i":28,"v":15},{"i":31.5,"v":15.7},{"i":34,"v":13.3},{"i":36.6,"v":16.7},{"i":40,"v":21},{"i":42.6,"v":23.3},{"i":45.1,"v":20},{"i":47.7,"v":15},{"i":50.3,"v":15.7},{"i":52.8,"v":18.3},{"i":55.4,"v":21.7},{"i":57.9,"v":20},{"i":60.5,"v":18.3},{"i":63.1,"v":18.3},{"i":65.6,"v":25},{"i":68.2,"v":30},{"i":70.8,"v":35},{"i":73.3,"v":31.7},{"i":75.9,"v":35},{"i":77.6,"v":34.3},{"i":80.2,"v":30},{"i":82.7,"v":30},{"i":85.3,"v":25},{"i":87,"v":28.3},{"i":89.6,"v":31.7},{"i":91.3,"v":30},{"i":94.7,"v":25},{"i":98.1,"v":21.7},{"i":101.5,"v":18.3},{"i":105,"v":16.7},{"i":108.4,"v":15},{"i":110.1,"v":11.7},{"i":111.8,"v":16.7},{"i":113.5,"v":21.7},{"i":116.1,"v":23.3},{"i":119.5,"v":21.7},{"i":122.9,"v":20},{"i":126.3,"v":23.3},{"i":129.7,"v":26.7},{"i":132.3,"v":26},{"i":134.9,"v":21.7},{"i":137.4,"v":19},{"i":139.6,"v":28.3},{"i":142.6,"v":26.7},{"i":145.1,"v":23.3},{"i":147,"v":20.2}],
"mdi":[{"i":-11.3,"v":31.7},{"i":-8.7,"v":30},{"i":-6.2,"v":28.3},{"i":-3.6,"v":26.7},{"i":-0.2,"v":25},{"i":3.3,"v":26.7},{"i":5.8,"v":30},{"i":8.4,"v":31.7},{"i":10.9,"v":30},{"i":13.5,"v":26.7},{"i":16.9,"v":25},{"i":20.3,"v":23.3},{"i":23.8,"v":26.7},{"i":27.2,"v":29},{"i":30.6,"v":27.7},{"i":34,"v":30},{"i":37.4,"v":31.7},{"i":40,"v":30},{"i":43.4,"v":31.7},{"i":47.7,"v":35},{"i":50.3,"v":33.3},{"i":53.7,"v":28.3},{"i":57.1,"v":25},{"i":60.5,"v":21.7},{"i":63.1,"v":22.3},{"i":65.6,"v":21.7},{"i":68.2,"v":15},{"i":70.8,"v":13.3},{"i":73.3,"v":12.3},{"i":75.9,"v":13.3},{"i":79.3,"v":11.7},{"i":82.7,"v":12.3},{"i":86.2,"v":12.3},{"i":88.7,"v":10},{"i":90.9,"v":11},{"i":93.8,"v":16.7},{"i":97.3,"v":20},{"i":100.7,"v":21.7},{"i":104.1,"v":23.3},{"i":107.5,"v":23.3},{"i":110.1,"v":29},{"i":112.7,"v":25},{"i":116.1,"v":22.3},{"i":119.5,"v":23.3},{"i":122.9,"v":23.3},{"i":126.3,"v":18.3},{"i":129.7,"v":15},{"i":132.3,"v":15},{"i":134.9,"v":26},{"i":137.4,"v":26},{"i":140,"v":21.7},{"i":142.6,"v":18.3},{"i":145.1,"v":18.3},{"i":147,"v":25.6}]
},
"vconcat":[
{
"width":718,"height":189,
"encoding":{"x":{"field":"i","type":"quantitative","scale":{"domain":[-11.28,172.82],"nice":false,"zero":false},"axis":{"orient":"bottom","values":[0,23,43,66,88,109,132,152],"labels":false,"ticks":false,"domain":false,"grid":true,"title":null}}},
"layer":[
{"data":{"values":[{"i":-11.28,"i2":172.82,"p":0.68}]},"mark":{"type":"rule","color":"#ebebeb","strokeWidth":1},"encoding":{"x2":{"field":"i2"},"y":{"field":"p","type":"quantitative","scale":{"domain":[0.6381,0.7102],"nice":false,"zero":false},"axis":{"orient":"right","values":[0.64,0.65,0.66,0.67,0.69,0.7],"format":".5f","grid":true,"domain":true,"ticks":true,"tickSize":4,"labelPadding":2,"title":null}}}},
{"data":{"name":"c"},"mark":{"type":"rule","color":"#5c5c5c","strokeWidth":1},"encoding":{"y":{"field":"l","type":"quantitative","scale":{"domain":[0.6381,0.7102],"nice":false,"zero":false},"axis":{"orient":"right","values":[0.64,0.65,0.66,0.67,0.69,0.7],"format":".5f","grid":true,"domain":true,"ticks":true,"tickSize":4,"labelPadding":2,"title":null}},"y2":{"field":"h"}}},
{"data":{"name":"c"},"mark":{"type":"rule","strokeWidth":3,"strokeCap":"butt"},"encoding":{"y":{"field":"o","type":"quantitative","scale":{"domain":[0.6381,0.7102],"nice":false,"zero":false},"axis":{"orient":"right","values":[0.64,0.65,0.66,0.67,0.69,0.7],"format":".5f","grid":true,"domain":true,"ticks":true,"tickSize":4,"labelPadding":2,"title":null}},"y2":{"field":"c"},"color":{"condition":{"test":"datum.c >= datum.o","value":"#3b8a32"},"value":"#f01010"}}},
{"data":{"name":"ma"},"mark":{"type":"line","color":"#ff2424","strokeWidth":1.5},"encoding":{"y":{"field":"v","type":"quantitative","scale":{"domain":[0.6381,0.7102],"nice":false,"zero":false},"axis":{"orient":"right","values":[0.64,0.65,0.66,0.67,0.69,0.7],"format":".5f","grid":true,"domain":true,"ticks":true,"tickSize":4,"labelPadding":2,"title":null}}}},
{"data":{"name":"e21"},"mark":{"type":"line","color":"#a01818","strokeWidth":1.6,"interpolate":"monotone"},"encoding":{"y":{"field":"v","type":"quantitative","scale":{"domain":[0.6381,0.7102],"nice":false,"zero":false},"axis":{"orient":"right","values":[0.64,0.65,0.66,0.67,0.69,0.7],"format":".5f","grid":true,"domain":true,"ticks":true,"tickSize":4,"labelPadding":2,"title":null}}}},
{"data":{"name":"e5"},"mark":{"type":"line","color":"#e56b6b","strokeWidth":1},"encoding":{"y":{"field":"v","type":"quantitative","scale":{"domain":[0.6381,0.7102],"nice":false,"zero":false},"axis":{"orient":"right","values":[0.64,0.65,0.66,0.67,0.69,0.7],"format":".5f","grid":true,"domain":true,"ticks":true,"tickSize":4,"labelPadding":2,"title":null}}}},
{"data":{"name":"tl"},"mark":{"type":"rule","color":"#a23cf0","strokeWidth":1.5},"encoding":{"x2":{"field":"i2"},"y":{"field":"p","type":"quantitative","scale":{"domain":[0.6381,0.7102],"nice":false,"zero":false},"axis":{"orient":"right","values":[0.64,0.65,0.66,0.67,0.69,0.7],"format":".5f","grid":true,"domain":true,"ticks":true,"tickSize":4,"labelPadding":2,"title":null}},"y2":{"field":"p2"}}},
{"data":{"name":"fib"},"mark":{"type":"rule","strokeDash":[3,3],"strokeWidth":1},"encoding":{"x2":{"field":"i2"},"y":{"field":"p","type":"quantitative","scale":{"domain":[0.6381,0.7102],"nice":false,"zero":false},"axis":{"orient":"right","values":[0.64,0.65,0.66,0.67,0.69,0.7],"format":".5f","grid":true,"domain":true,"ticks":true,"tickSize":4,"labelPadding":2,"title":null}},"color":{"field":"k","type":"nominal","scale":{"domain":["lab","lab2","red","dred","ttl","ohlc","fib","fibb","box","boxb"],"range":["#555555","#a0a0a0","#ff1a1a","#a31515","#333333","#7b2a2a","#555555","#7fb0f5","#c5c8ce","#4a90e2"]},"legend":null}}},
{"data":{"name":"fib"},"mark":{"type":"text","font":"Liberation Serif","fontSize":10,"align":"left","baseline":"middle","dx":3,"dy":6},"encoding":{"x":{"field":"i2","type":"quantitative","scale":{"domain":[-11.28,172.82],"nice":false,"zero":false},"axis":{"orient":"bottom","values":[0,23,43,66,88,109,132,152],"labels":false,"ticks":false,"domain":false,"grid":true,"title":null}},"y":{"field":"p","type":"quantitative","scale":{"domain":[0.6381,0.7102],"nice":false,"zero":false},"axis":{"orient":"right","values":[0.64,0.65,0.66,0.67,0.69,0.7],"format":".5f","grid":true,"domain":true,"ticks":true,"tickSize":4,"labelPadding":2,"title":null}},"text":{"field":"t"},"color":{"field":"k","type":"nominal","scale":{"domain":["lab","lab2","red","dred","ttl","ohlc","fib","fibb","box","boxb"],"range":["#555555","#a0a0a0","#ff1a1a","#a31515","#333333","#7b2a2a","#555555","#7fb0f5","#c5c8ce","#4a90e2"]},"legend":null}}},
{"data":{"name":"arm"},"mark":{"type":"rule","color":"#e8112d","strokeWidth":1.2},"encoding":{"x2":{"field":"i2"},"y":{"field":"p","type":"quantitative","scale":{"domain":[0.6381,0.7102],"nice":false,"zero":false},"axis":{"orient":"right","values":[0.64,0.65,0.66,0.67,0.69,0.7],"format":".5f","grid":true,"domain":true,"ticks":true,"tickSize":4,"labelPadding":2,"title":null}},"y2":{"field":"p2"}}},
{"data":{"name":"ann"},"mark":{"type":"text","fontSize":11,"fontWeight":"bold","align":"left","baseline":"middle","color":"#111111"},"encoding":{"y":{"field":"p","type":"quantitative","scale":{"domain":[0.6381,0.7102],"nice":false,"zero":false},"axis":{"orient":"right","values":[0.64,0.65,0.66,0.67,0.69,0.7],"format":".5f","grid":true,"domain":true,"ticks":true,"tickSize":4,"labelPadding":2,"title":null}},"text":{"field":"t"}}},
{"data":{"name":"bxm"},"mark":{"type":"point","shape":"square","size":64,"filled":true,"opacity":1},"encoding":{"y":{"field":"p","type":"quantitative","scale":{"domain":[0.6381,0.7102],"nice":false,"zero":false},"axis":{"orient":"right","values":[0.64,0.65,0.66,0.67,0.69,0.7],"format":".5f","grid":true,"domain":true,"ticks":true,"tickSize":4,"labelPadding":2,"title":null}},"color":{"field":"k","type":"nominal","scale":{"domain":["lab","lab2","red","dred","ttl","ohlc","fib","fibb","box","boxb"],"range":["#555555","#a0a0a0","#ff1a1a","#a31515","#333333","#7b2a2a","#555555","#7fb0f5","#c5c8ce","#4a90e2"]},"legend":null}}},
{"data":{"name":"lgm"},"mark":{"type":"text","fontSize":9.5,"align":"left","baseline":"middle"},"encoding":{"y":{"field":"p","type":"quantitative","scale":{"domain":[0.6381,0.7102],"nice":false,"zero":false},"axis":{"orient":"right","values":[0.64,0.65,0.66,0.67,0.69,0.7],"format":".5f","grid":true,"domain":true,"ticks":true,"tickSize":4,"labelPadding":2,"title":null}},"text":{"field":"t"},"color":{"field":"k","type":"nominal","scale":{"domain":["lab","lab2","red","dred","ttl","ohlc","fib","fibb","box","boxb"],"range":["#555555","#a0a0a0","#ff1a1a","#a31515","#333333","#7b2a2a","#555555","#7fb0f5","#c5c8ce","#4a90e2"]},"legend":null}}},
{"data":{"name":"ttl"},"mark":{"type":"text","fontSize":10.5,"align":"left","baseline":"middle"},"encoding":{"y":{"field":"p","type":"quantitative","scale":{"domain":[0.6381,0.7102],"nice":false,"zero":false},"axis":{"orient":"right","values":[0.64,0.65,0.66,0.67,0.69,0.7],"format":".5f","grid":true,"domain":true,"ticks":true,"tickSize":4,"labelPadding":2,"title":null}},"text":{"field":"t"},"color":{"field":"k","type":"nominal","scale":{"domain":["lab","lab2","red","dred","ttl","ohlc","fib","fibb","box","boxb"],"range":["#555555","#a0a0a0","#ff1a1a","#a31515","#333333","#7b2a2a","#555555","#7fb0f5","#c5c8ce","#4a90e2"]},"legend":null}}},
{"data":{"values":[{"i":-11.28,"i2":185.6,"p":0.6381}]},"mark":{"type":"rule","color":"#8a8a8a","strokeWidth":1},"encoding":{"x2":{"field":"i2"},"y":{"field":"p","type":"quantitative","scale":{"domain":[0.6381,0.7102],"nice":false,"zero":false},"axis":{"orient":"right","values":[0.64,0.65,0.66,0.67,0.69,0.7],"format":".5f","grid":true,"domain":true,"ticks":true,"tickSize":4,"labelPadding":2,"title":null}}}},
{"data":{"name":"px"},"mark":{"type":"rect","color":"#f01010"},"encoding":{"x2":{"field":"i2"},"y":{"field":"p","type":"quantitative","scale":{"domain":[0.6381,0.7102],"nice":false,"zero":false},"axis":{"orient":"right","values":[0.64,0.65,0.66,0.67,0.69,0.7],"format":".5f","grid":true,"domain":true,"ticks":true,"tickSize":4,"labelPadding":2,"title":null}},"y2":{"field":"p2"}}},
{"data":{"name":"px"},"mark":{"type":"text","color":"#ffffff","fontWeight":"bold","fontSize":10,"align":"left","baseline":"middle","dx":5},"encoding":{"y":{"field":"pt","type":"quantitative","scale":{"domain":[0.6381,0.7102],"nice":false,"zero":false},"axis":{"orient":"right","values":[0.64,0.65,0.66,0.67,0.69,0.7],"format":".5f","grid":true,"domain":true,"ticks":true,"tickSize":4,"labelPadding":2,"title":null}},"text":{"field":"t"}}}
]
},
{
"width":718,"height":53,
"encoding":{"x":{"field":"i","type":"quantitative","scale":{"domain":[-11.28,172.82],"nice":false,"zero":false},"axis":{"orient":"bottom","values":[0,23,43,66,88,109,132,152],"labels":false,"ticks":false,"domain":false,"grid":true,"title":null}}},
"layer":[
{"data":{"values":[{"i":-11.28,"i2":172.82,"a":30,"b":70}]},"mark":{"type":"rect","color":"#f4e8fb"},"encoding":{"x2":{"field":"i2"},"y":{"field":"a","type":"quantitative","scale":{"domain":[23,76],"nice":false,"zero":false},"axis":{"orient":"right","values":[25,50,75],"format":".4f","grid":false,"domain":true,"ticks":true,"tickSize":4,"labelPadding":2,"title":null}},"y2":{"field":"b"}}},
{"data":{"values":[{"i":-11.28,"i2":172.82,"v":70},{"i":-11.28,"i2":172.82,"v":30}]},"mark":{"type":"rule","color":"#a0a0a0","strokeDash":[4,3],"strokeWidth":1},"encoding":{"x2":{"field":"i2"},"y":{"field":"v","type":"quantitative","scale":{"domain":[23,76],"nice":false,"zero":false},"axis":{"orient":"right","values":[25,50,75],"format":".4f","grid":false,"domain":true,"ticks":true,"tickSize":4,"labelPadding":2,"title":null}}}},
{"data":{"name":"rsi"},"mark":{"type":"line","color":"#a050c0","strokeWidth":1.2},"encoding":{"y":{"field":"v","type":"quantitative","scale":{"domain":[23,76],"nice":false,"zero":false},"axis":{"orient":"right","values":[25,50,75],"format":".4f","grid":false,"domain":true,"ticks":true,"tickSize":4,"labelPadding":2,"title":null}}}},
{"data":{"values":[{"i":148.7,"v":61.7,"i2":150.1,"v2":36.7},{"i":148.7,"v":43.3,"i2":150.1,"v2":36.7},{"i":150.7,"v":45,"i2":150.1,"v2":36.7}]},"mark":{"type":"rule","color":"#e8112d","strokeWidth":1.2},"encoding":{"x2":{"field":"i2"},"y":{"field":"v","type":"quantitative","scale":{"domain":[23,76],"nice":false,"zero":false},"axis":{"orient":"right","values":[25,50,75],"format":".4f","grid":false,"domain":true,"ticks":true,"tickSize":4,"labelPadding":2,"title":null}},"y2":{"field":"v2"}}},
{"data":{"values":[{"i":153.3,"v":50,"t":"RSI below 50"}]},"mark":{"type":"text","fontSize":10.5,"fontWeight":"bold","align":"left","baseline":"middle","color":"#111111"},"encoding":{"y":{"field":"v","type":"quantitative","scale":{"domain":[23,76],"nice":false,"zero":false},"axis":{"orient":"right","values":[25,50,75],"format":".4f","grid":false,"domain":true,"ticks":true,"tickSize":4,"labelPadding":2,"title":null}},"text":{"field":"t"}}},
{"data":{"values":[{"i":10.77,"v":64},{"i":13.85,"v":64},{"i":16.67,"v":64},{"i":19.49,"v":64}]},"mark":{"type":"point","shape":"square","size":64,"filled":true,"opacity":1,"color":"#c5c8ce"},"encoding":{"y":{"field":"v","type":"quantitative","scale":{"domain":[23,76],"nice":false,"zero":false},"axis":{"orient":"right","values":[25,50,75],"format":".4f","grid":false,"domain":true,"ticks":true,"tickSize":4,"labelPadding":2,"title":null}}}},
{"data":{"values":[{"i":-9.49,"v":64,"t":"RSI (14, close) ˅","k":"lab"},{"i":22.05,"v":64,"t":"45.9641","k":"rsi"}]},"mark":{"type":"text","fontSize":9.5,"align":"left","baseline":"middle"},"encoding":{"y":{"field":"v","type":"quantitative","scale":{"domain":[23,76],"nice":false,"zero":false},"axis":{"orient":"right","values":[25,50,75],"format":".4f","grid":false,"domain":true,"ticks":true,"tickSize":4,"labelPadding":2,"title":null}},"text":{"field":"t"},"color":{"field":"k","type":"nominal","scale":{"domain":["lab","rsi","blue","orange","pink","dblue"],"range":["#555555","#9c27b0","#2196f3","#ff6d00","#ff2d6f","#0000ff"]},"legend":null}}},
{"data":{"values":[{"i":-11.28,"i2":185.6,"v":23}]},"mark":{"type":"rule","color":"#8a8a8a","strokeWidth":1},"encoding":{"x2":{"field":"i2"},"y":{"field":"v","type":"quantitative","scale":{"domain":[23,76],"nice":false,"zero":false},"axis":{"orient":"right","values":[25,50,75],"format":".4f","grid":false,"domain":true,"ticks":true,"tickSize":4,"labelPadding":2,"title":null}}}}
]
},
{
"width":718,"height":53,
"encoding":{"x":{"field":"i","type":"quantitative","scale":{"domain":[-11.28,172.82],"nice":false,"zero":false},"axis":{"orient":"bottom","values":[0,23,43,66,88,109,132,152],"labels":false,"ticks":false,"domain":false,"grid":true,"title":null}}},
"layer":[
{"data":{"values":[{"i":-11.28,"i2":172.82,"a":20,"b":80}]},"mark":{"type":"rect","color":"#ebd7f7"},"encoding":{"x2":{"field":"i2"},"y":{"field":"a","type":"quantitative","scale":{"domain":[-4.5,103.7],"nice":false,"zero":false},"axis":{"orient":"right","values":[0,50,100],"format":".4f","grid":false,"domain":true,"ticks":true,"tickSize":4,"labelPadding":2,"title":null}},"y2":{"field":"b"}}},
{"data":{"values":[{"i":-11.28,"i2":172.82,"v":80},{"i":-11.28,"i2":172.82,"v":20}]},"mark":{"type":"rule","color":"#a0a0a0","strokeDash":[4,3],"strokeWidth":1},"encoding":{"x2":{"field":"i2"},"y":{"field":"v","type":"quantitative","scale":{"domain":[-4.5,103.7],"nice":false,"zero":false},"axis":{"orient":"right","values":[0,50,100],"format":".4f","grid":false,"domain":true,"ticks":true,"tickSize":4,"labelPadding":2,"title":null}}}},
{"data":{"name":"sd"},"mark":{"type":"line","color":"#f7892b","strokeWidth":1.2,"interpolate":"monotone"},"encoding":{"y":{"field":"v","type":"quantitative","scale":{"domain":[-4.5,103.7],"nice":false,"zero":false},"axis":{"orient":"right","values":[0,50,100],"format":".4f","grid":false,"domain":true,"ticks":true,"tickSize":4,"labelPadding":2,"title":null}}}},
{"data":{"name":"sk"},"mark":{"type":"line","color":"#3d9cf2","strokeWidth":1.2,"interpolate":"monotone"},"encoding":{"y":{"field":"v","type":"quantitative","scale":{"domain":[-4.5,103.7],"nice":false,"zero":false},"axis":{"orient":"right","values":[0,50,100],"format":".4f","grid":false,"domain":true,"ticks":true,"tickSize":4,"labelPadding":2,"title":null}}}},
{"data":{"values":[{"i":148.7,"v":72.4,"i2":150.1,"v2":26.1},{"i":148.6,"v":40,"i2":150.1,"v2":26.1},{"i":150.7,"v":40,"i2":150.1,"v2":26.1}]},"mark":{"type":"rule","color":"#e8112d","strokeWidth":1.2},"encoding":{"x2":{"field":"i2"},"y":{"field":"v","type":"quantitative","scale":{"domain":[-4.5,103.7],"nice":false,"zero":false},"axis":{"orient":"right","values":[0,50,100],"format":".4f","grid":false,"domain":true,"ticks":true,"tickSize":4,"labelPadding":2,"title":null}},"y2":{"field":"v2"}}},
{"data":{"values":[{"i":12.05,"v":81.2},{"i":15.13,"v":81.2},{"i":17.95,"v":81.2},{"i":20.77,"v":81.2}]},"mark":{"type":"point","shape":"square","size":64,"filled":true,"opacity":1,"color":"#c5c8ce"},"encoding":{"y":{"field":"v","type":"quantitative","scale":{"domain":[-4.5,103.7],"nice":false,"zero":false},"axis":{"orient":"right","values":[0,50,100],"format":".4f","grid":false,"domain":true,"ticks":true,"tickSize":4,"labelPadding":2,"title":null}}}},
{"data":{"values":[{"i":-9.49,"v":81.2,"t":"Stoch (14, 3, 3) ˅","k":"lab"},{"i":23.8,"v":81.2,"t":"45.6099","k":"blue"},{"i":33.2,"v":81.2,"t":"56.4244","k":"orange"}]},"mark":{"type":"text","fontSize":9.5,"align":"left","baseline":"middle"},"encoding":{"y":{"field":"v","type":"quantitative","scale":{"domain":[-4.5,103.7],"nice":false,"zero":false},"axis":{"orient":"right","values":[0,50,100],"format":".4f","grid":false,"domain":true,"ticks":true,"tickSize":4,"labelPadding":2,"title":null}},"text":{"field":"t"},"color":{"field":"k","type":"nominal","scale":{"domain":["lab","rsi","blue","orange","pink","dblue"],"range":["#555555","#9c27b0","#2196f3","#ff6d00","#ff2d6f","#0000ff"]},"legend":null}}},
{"data":{"values":[{"i":-11.28,"i2":185.6,"v":-4.5}]},"mark":{"type":"rule","color":"#8a8a8a","strokeWidth":1},"encoding":{"x2":{"field":"i2"},"y":{"field":"v","type":"quantitative","scale":{"domain":[-4.5,103.7],"nice":false,"zero":false},"axis":{"orient":"right","values":[0,50,100],"format":".4f","grid":false,"domain":true,"ticks":true,"tickSize":4,"labelPadding":2,"title":null}}}}
]
},
{
"width":718,"height":40,
"encoding":{"x":{"field":"i","type":"quantitative","scale":{"domain":[-11.28,172.82],"nice":false,"zero":false},"axis":{"orient":"bottom","values":[0,23,43,66,88,109,132,152],"labels":false,"ticks":false,"domain":false,"grid":true,"title":null}}},
"layer":[
{"data":{"name":"mh"},"mark":{"type":"rule","color":"#ff5c93","strokeWidth":1},"encoding":{"y":{"field":"v","type":"quantitative","scale":{"domain":[-0.00559,0.00618],"nice":false,"zero":false},"axis":{"orient":"right","values":[0],"format":".4f","grid":true,"domain":true,"ticks":true,"tickSize":4,"labelPadding":2,"title":null}},"y2":{"datum":0}}},
{"data":{"name":"ms"},"mark":{"type":"line","color":"#f7942b","strokeWidth":1.2,"interpolate":"monotone"},"encoding":{"y":{"field":"v","type":"quantitative","scale":{"domain":[-0.00559,0.00618],"nice":false,"zero":false},"axis":{"orient":"right","values":[0],"format":".4f","grid":true,"domain":true,"ticks":true,"tickSize":4,"labelPadding":2,"title":null}}}},
{"data":{"name":"mm"},"mark":{"type":"line","color":"#3da5f5","strokeWidth":1.2,"interpolate":"monotone"},"encoding":{"y":{"field":"v","type":"quantitative","scale":{"domain":[-0.00559,0.00618],"nice":false,"zero":false},"axis":{"orient":"right","values":[0],"format":".4f","grid":true,"domain":true,"ticks":true,"tickSize":4,"labelPadding":2,"title":null}}}},
{"data":{"values":[{"i":20.51,"v":0.00294},{"i":23.33,"v":0.00294},{"i":26.41,"v":0.00294},{"i":29.23,"v":0.00294}]},"mark":{"type":"point","shape":"square","size":64,"filled":true,"opacity":1,"color":"#c5c8ce"},"encoding":{"y":{"field":"v","type":"quantitative","scale":{"domain":[-0.00559,0.00618],"nice":false,"zero":false},"axis":{"orient":"right","values":[0],"format":".4f","grid":true,"domain":true,"ticks":true,"tickSize":4,"labelPadding":2,"title":null}}}},
{"data":{"values":[{"i":-9.49,"v":0.00294,"t":"MACD (12, 26, close, 9) ˅","k":"lab"},{"i":31.9,"v":0.00294,"t":"−0.0002","k":"pink"},{"i":41.5,"v":0.00294,"t":"0.0007","k":"blue"},{"i":49.6,"v":0.00294,"t":"0.0009","k":"orange"}]},"mark":{"type":"text","fontSize":9.5,"align":"left","baseline":"middle"},"encoding":{"y":{"field":"v","type":"quantitative","scale":{"domain":[-0.00559,0.00618],"nice":false,"zero":false},"axis":{"orient":"right","values":[0],"format":".4f","grid":true,"domain":true,"ticks":true,"tickSize":4,"labelPadding":2,"title":null}},"text":{"field":"t"},"color":{"field":"k","type":"nominal","scale":{"domain":["lab","rsi","blue","orange","pink","dblue"],"range":["#555555","#9c27b0","#2196f3","#ff6d00","#ff2d6f","#0000ff"]},"legend":null}}},
{"data":{"values":[{"i":-11.28,"i2":185.6,"v":-0.00559}]},"mark":{"type":"rule","color":"#8a8a8a","strokeWidth":1},"encoding":{"x2":{"field":"i2"},"y":{"field":"v","type":"quantitative","scale":{"domain":[-0.00559,0.00618],"nice":false,"zero":false},"axis":{"orient":"right","values":[0],"format":".4f","grid":true,"domain":true,"ticks":true,"tickSize":4,"labelPadding":2,"title":null}}}}
]
},
{
"width":718,"height":33,
"encoding":{"x":{"field":"i","type":"quantitative","scale":{"domain":[-11.28,172.82],"nice":false,"zero":false},"axis":{"orient":"bottom","values":[0,23,43,66,88,109,132,152],"labels":true,"labelExpr":"datum.value==0?'Aug':datum.value==23?'Sep':datum.value==43?'Oct':datum.value==66?'Nov':datum.value==88?'Dec':datum.value==109?'2019':datum.value==132?'Feb':'Mar'","labelFontSize":10.5,"labelColor":"#4a4a4a","labelFontWeight":{"condition":{"test":"datum.value == 109","value":"bold"},"value":"normal"},"labelPadding":5,"labelFlush":false,"ticks":false,"domain":false,"grid":true,"title":null}}},
"layer":[
{"data":{"name":"mdi"},"mark":{"type":"line","color":"#f7942b","strokeWidth":1.2},"encoding":{"y":{"field":"v","type":"quantitative","scale":{"domain":[7,40],"nice":false,"zero":false},"axis":{"orient":"right","values":[25],"format":".4f","grid":true,"domain":true,"ticks":true,"tickSize":4,"labelPadding":2,"title":null}}}},
{"data":{"name":"pdi"},"mark":{"type":"line","color":"#4fa8f5","strokeWidth":1.2},"encoding":{"y":{"field":"v","type":"quantitative","scale":{"domain":[7,40],"nice":false,"zero":false},"axis":{"orient":"right","values":[25],"format":".4f","grid":true,"domain":true,"ticks":true,"tickSize":4,"labelPadding":2,"title":null}}}},
{"data":{"name":"adx"},"mark":{"type":"line","color":"#1515ee","strokeWidth":2,"interpolate":"monotone"},"encoding":{"y":{"field":"v","type":"quantitative","scale":{"domain":[7,40],"nice":false,"zero":false},"axis":{"orient":"right","values":[25],"format":".4f","grid":true,"domain":true,"ticks":true,"tickSize":4,"labelPadding":2,"title":null}}}},
{"data":{"values":[{"i":8.46,"v":29},{"i":11.54,"v":29},{"i":14.36,"v":29},{"i":17.18,"v":29}]},"mark":{"type":"point","shape":"square","size":64,"filled":true,"opacity":1,"color":"#c5c8ce"},"encoding":{"y":{"field":"v","type":"quantitative","scale":{"domain":[7,40],"nice":false,"zero":false},"axis":{"orient":"right","values":[25],"format":".4f","grid":true,"domain":true,"ticks":true,"tickSize":4,"labelPadding":2,"title":null}}}},
{"data":{"values":[{"i":-9.49,"v":29,"t":"DMI (14, 14) ˅","k":"lab"},{"i":19.9,"v":29,"t":"15.6949","k":"dblue"},{"i":29.5,"v":29,"t":"20.2093","k":"blue"},{"i":39.1,"v":29,"t":"25.5869","k":"orange"}]},"mark":{"type":"text","fontSize":9.5,"align":"left","baseline":"middle"},"encoding":{"y":{"field":"v","type":"quantitative","scale":{"domain":[7,40],"nice":false,"zero":false},"axis":{"orient":"right","values":[25],"format":".4f","grid":true,"domain":true,"ticks":true,"tickSize":4,"labelPadding":2,"title":null}},"text":{"field":"t"},"color":{"field":"k","type":"nominal","scale":{"domain":["lab","rsi","blue","orange","pink","dblue"],"range":["#555555","#9c27b0","#2196f3","#ff6d00","#ff2d6f","#0000ff"]},"legend":null}}},
{"data":{"values":[{"i":-11.28,"i2":185.6,"v":7}]},"mark":{"type":"rule","color":"#8a8a8a","strokeWidth":1},"encoding":{"x2":{"field":"i2"},"y":{"field":"v","type":"quantitative","scale":{"domain":[7,40],"nice":false,"zero":false},"axis":{"orient":"right","values":[25],"format":".4f","grid":true,"domain":true,"ticks":true,"tickSize":4,"labelPadding":2,"title":null}}}},
{"data":{"values":[{"i":172.82,"v":7,"v2":-16}]},"mark":{"type":"rule","color":"#8a8a8a","strokeWidth":1},"encoding":{"y":{"field":"v","type":"quantitative","scale":{"domain":[7,40],"nice":false,"zero":false},"axis":{"orient":"right","values":[25],"format":".4f","grid":true,"domain":true,"ticks":true,"tickSize":4,"labelPadding":2,"title":null}},"y2":{"field":"v2"}}},
{"data":{"values":[{"i":178.6,"v":-4,"t":"⚙"}]},"mark":{"type":"text","fontSize":15,"align":"center","baseline":"middle","color":"#555555","font":"DejaVu Sans"},"encoding":{"y":{"field":"v","type":"quantitative","scale":{"domain":[7,40],"nice":false,"zero":false},"axis":{"orient":"right","values":[25],"format":".4f","grid":true,"domain":true,"ticks":true,"tickSize":4,"labelPadding":2,"title":null}},"text":{"field":"t"}}}
]
}
]
}
